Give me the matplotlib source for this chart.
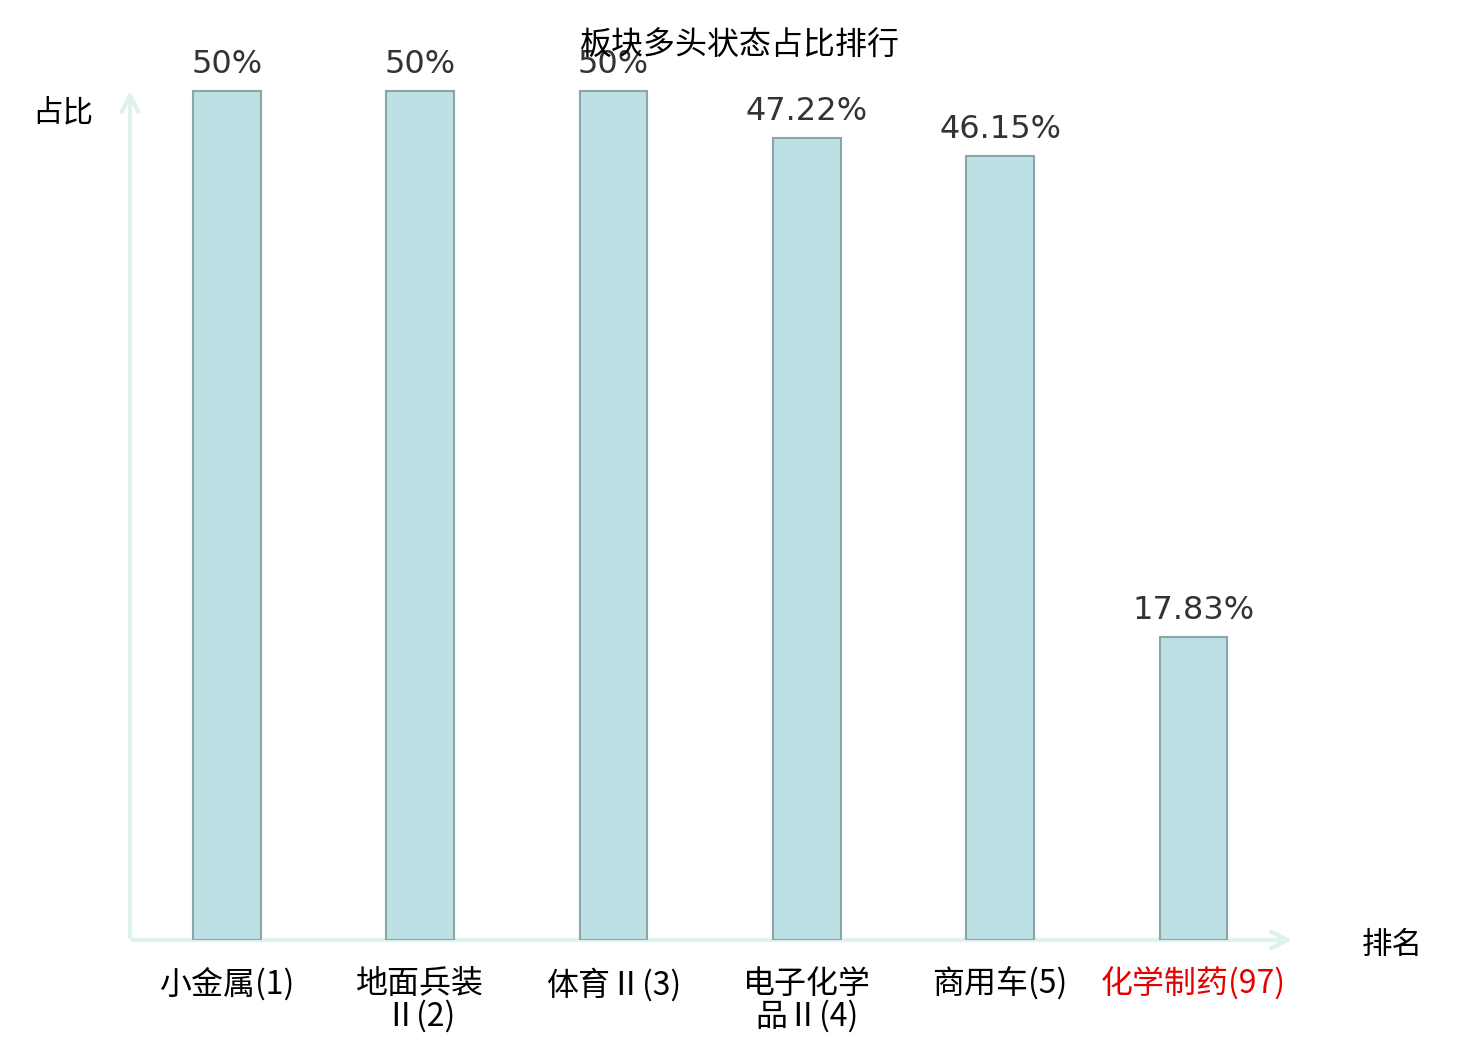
import matplotlib
matplotlib.use('Agg')
import matplotlib.pyplot as plt
import numpy as np

plt.rcParams['font.family'] = ['Noto Sans CJK SC', 'DejaVu Sans']

#  ----------------- data
#
sectors = ['小金属(1)', '地面兵装\nⅡ(2)', '体育Ⅱ(3)', '电子化学\n品Ⅱ(4)', '商用车(5)', '化学制药(97)']
ratios = [50, 50, 50, 47.22, 46.15, 17.83]
ratio_labels = ['50%', '50%', '50%', '47.22%', '46.15%', '17.83%']
highlight = 5   # the sector of interest, shown in red

title = '板块多头状态占比排行'
ylabel = '占比'
xlabel = '排名'

#  ----------------- figure
#
fig = plt.figure(figsize=(14.8, 10.4), dpi=100)
ax = fig.add_axes([130 / 1480, 100 / 1040, 1165 / 1480, 852 / 1040])

x = np.arange(len(sectors))
ax.bar(x, ratios, width=0.35, color='#bce0e3', edgecolor='#8aa7a8', linewidth=1.5, zorder=2)

for xi, v, lab in zip(x, ratios, ratio_labels):
    ax.annotate(lab, (xi, v), xytext=(0, 8), textcoords='offset points',
                ha='center', va='bottom', fontsize=23, color='#333333',
                family=['DejaVu Sans'])

ax.set_xlim(-0.5, 5.525)
ax.set_ylim(0, 50.18)

for s in ax.spines.values():
    s.set_visible(False)
ax.set_yticks([])
ax.set_xticks(x)
ax.set_xticklabels(sectors, fontsize=23, linespacing=1.0)
ax.tick_params(axis='x', length=0, pad=20)
for i, t in enumerate(ax.get_xticklabels()):
    if i == highlight:
        t.set_color('#e60000')

# axis lines with arrows
arrow_col = '#dff2ef'
ax.annotate('', xy=(1.0, 0), xytext=(0, 0), xycoords='axes fraction',
            arrowprops=dict(arrowstyle='->', color=arrow_col, lw=3, mutation_scale=30),
            zorder=1)
ax.annotate('', xy=(0, 1.0), xytext=(0, 0), xycoords='axes fraction',
            arrowprops=dict(arrowstyle='->', color=arrow_col, lw=3, mutation_scale=30),
            zorder=1)

fig.text(63 / 1480, 1 - 113 / 1040, ylabel, ha='center', va='center', fontsize=22)
fig.text(1392 / 1480, 1 - 945 / 1040, xlabel, ha='center', va='center', fontsize=22)
fig.text(740 / 1480, 1 - 46 / 1040, title, ha='center', va='center', fontsize=23)

fig.savefig('out.png', dpi=100)
